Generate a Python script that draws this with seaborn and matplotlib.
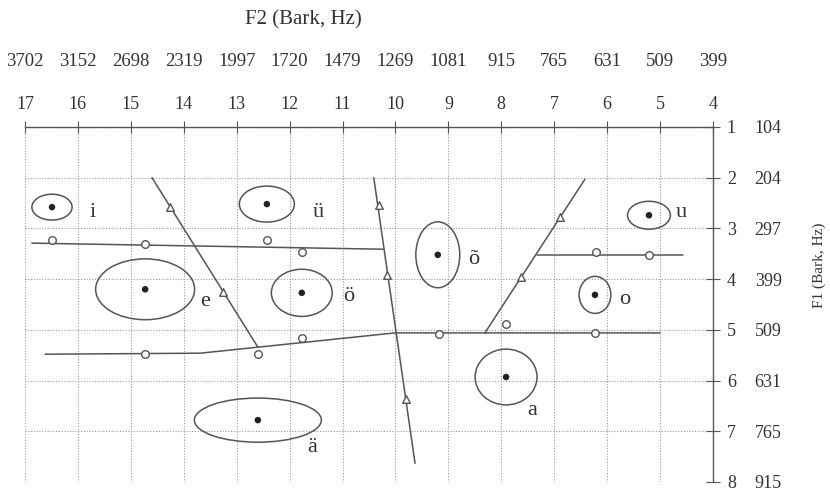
import numpy as np
import pandas as pd
import matplotlib
matplotlib.use("Agg")
import matplotlib.pyplot as plt
from matplotlib.patches import Ellipse
import seaborn as sns

# --- DATA (Bark scale) ---
f2_bark = [17, 16, 15, 14, 13, 12, 11, 10, 9, 8, 7, 6, 5, 4]
f2_hz = ['3702', '3152', '2698', '2319', '1997', '1720', '1479', '1269', '1081',
         '915', '765', '631', '509', '399']
f1_bark = [1, 2, 3, 4, 5, 6, 7, 8]
f1_hz = ['104', '204', '297', '399', '509', '631', '765', '915']

# vowel means with dispersion ellipses
vowels = ['i', 'ü', 'e', 'ö', 'õ', 'u', 'o', 'a', 'ä']
vowel_f2 = [16.49, 12.43, 14.73, 11.77, 9.20, 5.21, 6.23, 7.91, 12.60]
vowel_f1 = [2.58, 2.52, 4.20, 4.27, 3.52, 2.74, 4.31, 5.93, 6.78]
ell_w = [0.76, 1.04, 1.87, 1.15, 0.83, 0.81, 0.60, 1.17, 2.40]
ell_h = [0.51, 0.71, 1.20, 0.93, 1.30, 0.55, 0.73, 1.10, 0.87]
label_f2 = [15.72, 11.46, 13.60, 10.88, 8.53, 4.60, 5.66, 7.42, 11.58]
label_f1 = [2.68, 2.68, 4.45, 4.35, 3.62, 2.68, 4.41, 6.60, 7.31]

# open circles
circ_f2 = [16.49, 14.73, 12.43, 11.77, 6.21, 5.21, 14.73, 12.60, 11.77, 9.18, 7.91, 6.23]
circ_f1 = [3.23, 3.31, 3.23, 3.47, 3.47, 3.52, 5.48, 5.48, 5.16, 5.08, 4.89, 5.06]

# open triangles
tri_f2 = [14.26, 13.26, 10.31, 10.16, 9.80, 7.63, 6.89]
tri_f1 = [2.58, 4.25, 2.54, 3.92, 6.36, 3.96, 2.77]

# boundary lines
lines = {
    'front': ([14.60, 12.60], [2.00, 5.34]),
    'upper': ([16.87, 10.23], [3.29, 3.41]),
    'lower': ([16.62, 13.69, 10.01, 5.00], [5.48, 5.46, 5.06, 5.06]),
    'central': ([10.41, 9.63], [2.00, 7.63]),
    'back': ([8.31, 6.42], [5.06, 2.03]),
    'back_upper': ([7.33, 4.57], [3.52, 3.52]),
}

# --- PLOT ---
sns.set_style("white")
plt.rcParams['font.family'] = ['Liberation Serif', 'DejaVu Serif']
ink = '#555555'
txt = '#333333'

fig = plt.figure(figsize=(8.3, 4.92), dpi=100)
ax = fig.add_axes([25 / 830, 10 / 492, 688 / 830, 355 / 492])

for name, (xs, ys) in lines.items():
    sns.lineplot(x=xs, y=ys, sort=False, ax=ax, color=ink, lw=1.1, estimator=None)

for x, y, w, h in zip(vowel_f2, vowel_f1, ell_w, ell_h):
    ax.add_patch(Ellipse((x, y), w, h, fill=False, ec=ink, lw=1.1))

sns.scatterplot(x=vowel_f2, y=vowel_f1, ax=ax, color='#222222', s=22, edgecolor='none', zorder=5)
sns.scatterplot(x=circ_f2, y=circ_f1, ax=ax, marker='o', s=30, facecolor='white',
                edgecolor=ink, linewidth=1, zorder=5)
sns.scatterplot(x=tri_f2, y=tri_f1, ax=ax, marker='^', s=30, facecolor='white',
                edgecolor=ink, linewidth=1, zorder=5)

for v, x, y in zip(vowels, label_f2, label_f1):
    ax.text(x, y, v, fontsize=16, color=txt, ha='center', va='center')

ax.set_xlim(17, 4)
ax.set_ylim(8, 1)

# grid
ax.grid(True, ls=(0, (1, 1.5)), color='#999999', lw=0.8)
ax.set_axisbelow(True)

# top axis: Bark
ax.xaxis.tick_top()
ax.set_xticks(f2_bark)
ax.set_xticklabels([str(b) for b in f2_bark])
ax.tick_params(axis='x', direction='inout', length=8, width=0.8, color=ink,
               pad=6, labelsize=13, labelcolor=txt)

# right axis: Bark
ax.yaxis.tick_right()
ax.set_yticks(f1_bark)
ax.set_yticklabels([str(b) for b in f1_bark])
ax.tick_params(axis='y', direction='inout', length=10, width=0.8, color=ink,
               pad=5, labelsize=13, labelcolor=txt)

for side in ['left', 'bottom']:
    ax.spines[side].set_visible(False)
for side in ['top', 'right']:
    ax.spines[side].set_color(ink)
    ax.spines[side].set_linewidth(1)

# Hz rows
secx = ax.secondary_xaxis('top')
secx.set_xticks(f2_bark)
secx.set_xticklabels(f2_hz)
secx.tick_params(length=0, pad=41, labelsize=13.5, labelcolor=txt)
for s in secx.spines.values():
    s.set_visible(False)

secy = ax.secondary_yaxis('right')
secy.set_yticks(f1_bark)
secy.set_yticklabels(f1_hz)
secy.tick_params(length=0, pad=30, labelsize=13, labelcolor=txt)
for s in secy.spines.values():
    s.set_visible(False)

fig.text(303 / 830, 1 - 20 / 492, 'F2 (Bark, Hz)', fontsize=15, color=txt,
         ha='center', va='center')
fig.text(819 / 830, 1 - 265 / 492, 'F1 (Bark, Hz)', fontsize=11, color=txt,
         ha='center', va='center', rotation=90)

fig.savefig('out.png', dpi=100)
